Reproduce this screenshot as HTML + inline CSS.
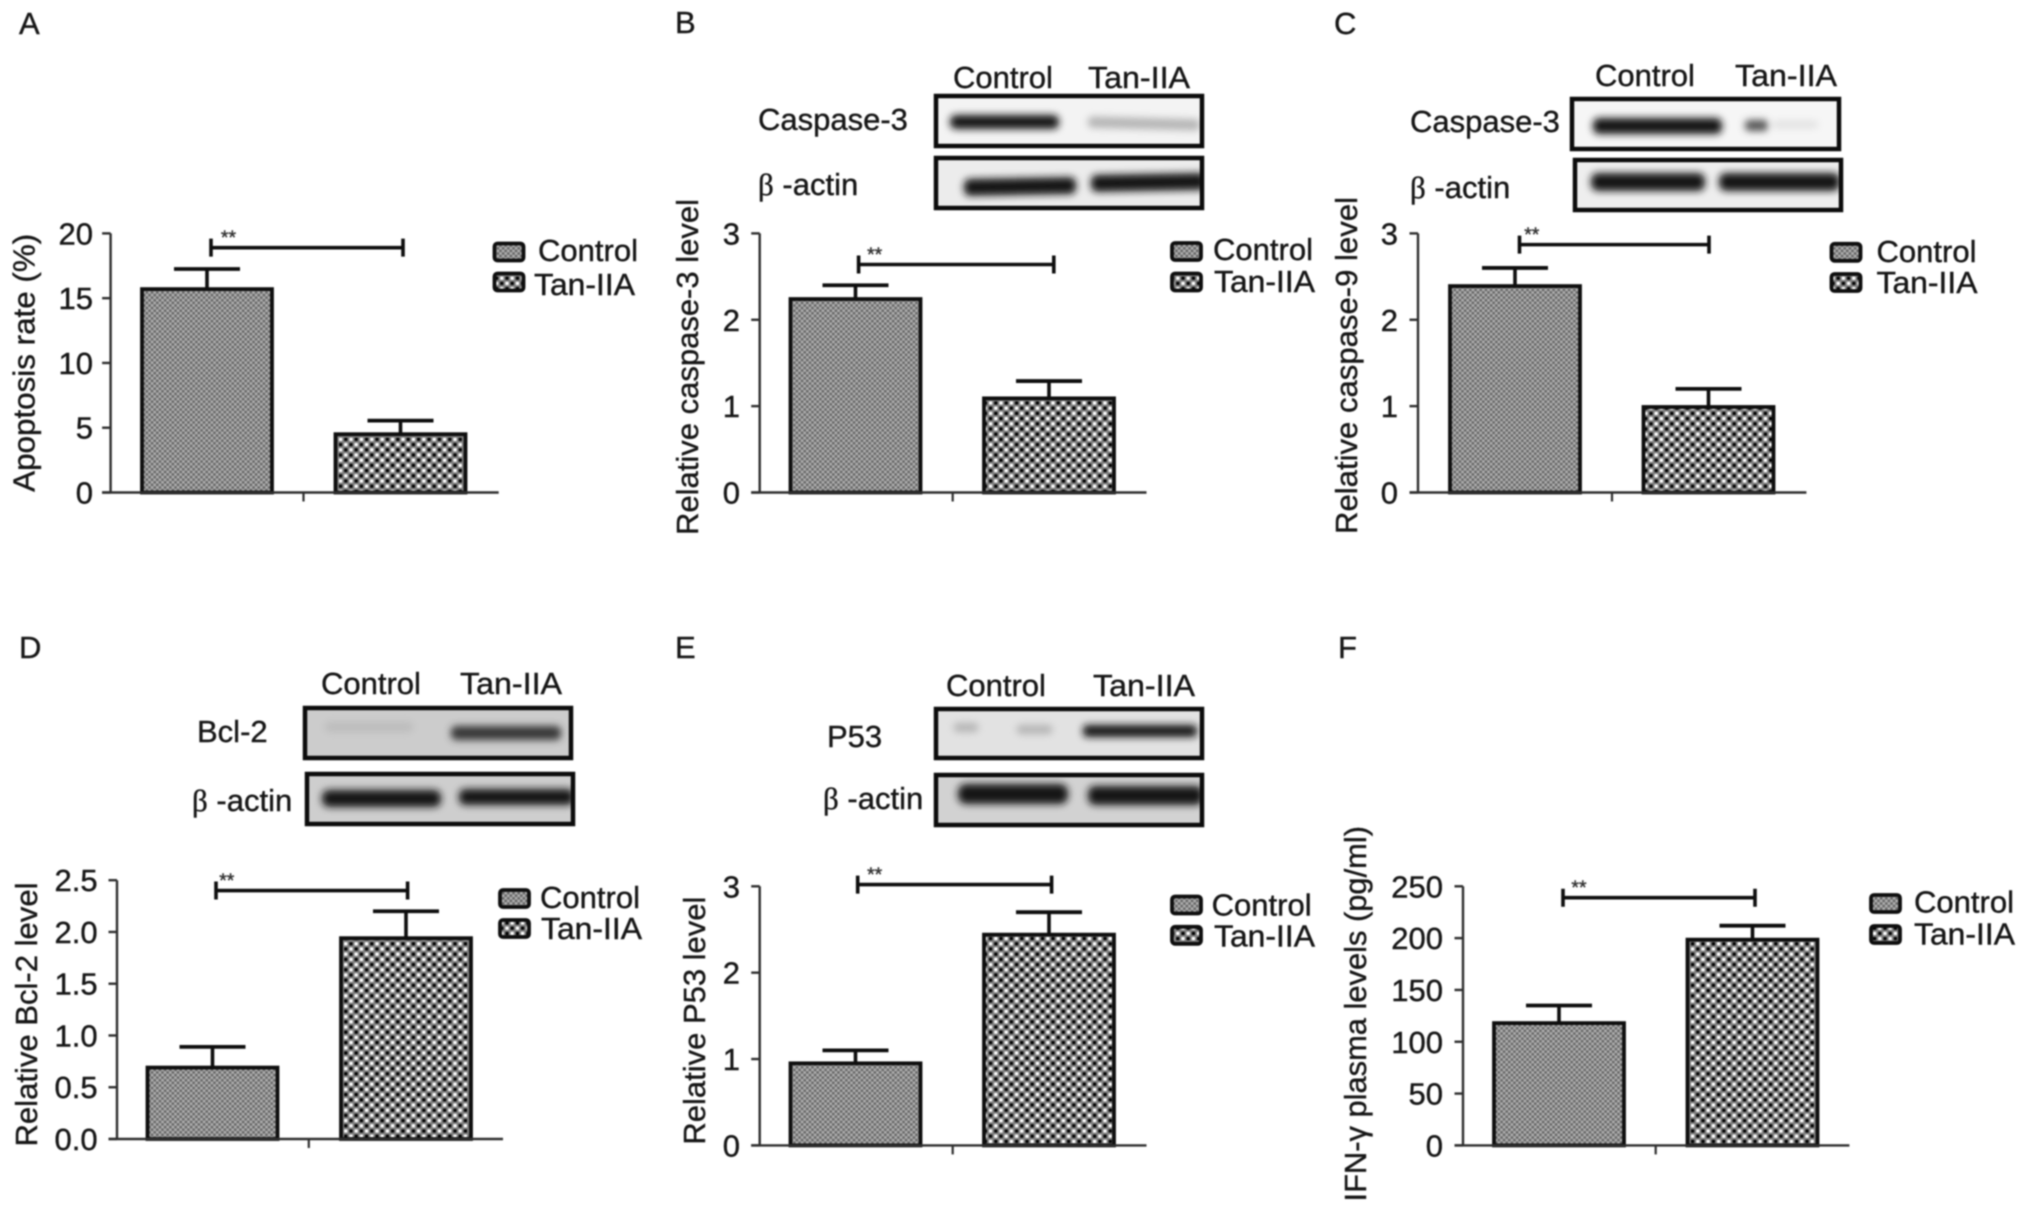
<!DOCTYPE html>
<html lang="en">
<head>
<meta charset="utf-8">
<title>Tan-IIA apoptosis panels</title>
<style>
html,body{margin:0;padding:0;background:#fff;width:2029px;height:1214px;overflow:hidden}
#figure{display:block;filter:blur(0.8px)}
text{font-family:"Liberation Sans",Arial,sans-serif;fill:#161616;stroke:#161616;stroke-width:0.4px}
</style>
</head>
<body>
<svg id="figure" xmlns="http://www.w3.org/2000/svg" width="2029" height="1214" viewBox="0 0 2029 1214">
<defs>
<pattern id="fill-gray" patternUnits="userSpaceOnUse" width="5.2" height="5.2">
<rect width="5.2" height="5.2" fill="#8a8a8a"/>
<rect width="2.6" height="2.6" fill="#666"/>
<rect x="2.6" y="2.6" width="2.6" height="2.6" fill="#666"/>
<rect x="2.6" width="2.6" height="2.6" fill="#b0b0b0"/>
<rect y="2.6" width="2.6" height="2.6" fill="#b0b0b0"/>
</pattern>
<pattern id="fill-dots" patternUnits="userSpaceOnUse" width="10.4" height="10.4">
<rect width="10.4" height="10.4" fill="#808080"/>
<rect x="1" y="1" width="3.2" height="3.2" fill="#000"/>
<rect x="6.2" y="6.2" width="3.2" height="3.2" fill="#000"/>
<rect x="6.2" y="1" width="3.2" height="3.2" fill="#fff"/>
<rect x="1" y="6.2" width="3.2" height="3.2" fill="#fff"/>
</pattern>
<filter id="band-blur" x="-20%" y="-100%" width="140%" height="300%"><feGaussianBlur stdDeviation="3.6"/></filter>
<clipPath id="clip-b1"><rect x="936" y="96" width="266" height="50"/></clipPath>
<clipPath id="clip-b2"><rect x="936" y="158" width="266" height="50"/></clipPath>
<clipPath id="clip-c1"><rect x="1572" y="99" width="267" height="50"/></clipPath>
<clipPath id="clip-c2"><rect x="1575" y="160" width="266" height="50"/></clipPath>
<clipPath id="clip-d1"><rect x="305" y="708" width="266" height="50"/></clipPath>
<clipPath id="clip-d2"><rect x="307" y="774" width="266" height="50"/></clipPath>
<clipPath id="clip-e1"><rect x="936" y="709" width="266" height="49"/></clipPath>
<clipPath id="clip-e2"><rect x="936" y="775" width="266" height="50"/></clipPath>
</defs>

<!-- Panel letters -->
<text x="19" y="34" font-size="31">A</text>
<text x="675" y="33" font-size="31">B</text>
<text x="1334" y="34" font-size="31">C</text>
<text x="19" y="658" font-size="31">D</text>
<text x="675" y="658" font-size="31">E</text>
<text x="1338" y="658" font-size="31">F</text>

<!-- Panel B blots -->
<g>
<text x="953" y="88" font-size="31">Control</text>
<text x="1088" y="88" font-size="31" textLength="102" lengthAdjust="spacingAndGlyphs">Tan-IIA</text>
<text x="758" y="130" font-size="31">Caspase-3</text>
<text x="758" y="195" font-size="31"><tspan font-family="'Liberation Serif',serif">β</tspan> -actin</text>
<rect x="936" y="96" width="266" height="50" fill="#f3f3f3"/>
<g clip-path="url(#clip-b1)" filter="url(#band-blur)">
<rect x="950" y="115" width="109" height="14" rx="6" fill="#181818"/>
<rect x="1088" y="118" width="112" height="11" rx="4" fill="#b4b4b4" transform="rotate(1.5 1145 124)"/>
</g>
<rect x="936" y="96" width="266" height="50" fill="none" stroke="#0c0c0c" stroke-width="4.5"/>
<rect x="936" y="158" width="266" height="50" fill="#ececec"/>
<g clip-path="url(#clip-b2)" filter="url(#band-blur)">
<rect x="964" y="178" width="112" height="17" rx="6" fill="#181818" transform="rotate(-1 1020 187)"/>
<rect x="1091" y="174" width="115" height="17" rx="6" fill="#181818" transform="rotate(-1 1145 183)"/>
</g>
<rect x="936" y="158" width="266" height="50" fill="none" stroke="#0c0c0c" stroke-width="4.5"/>
</g>

<!-- Panel C blots -->
<g>
<text x="1595" y="86" font-size="31">Control</text>
<text x="1735" y="86" font-size="31" textLength="102" lengthAdjust="spacingAndGlyphs">Tan-IIA</text>
<text x="1410" y="132" font-size="31">Caspase-3</text>
<text x="1410" y="198" font-size="31"><tspan font-family="'Liberation Serif',serif">β</tspan> -actin</text>
<rect x="1572" y="99" width="267" height="50" fill="#f6f6f6"/>
<g clip-path="url(#clip-c1)" filter="url(#band-blur)">
<rect x="1593" y="118" width="129" height="16" rx="6" fill="#181818"/>
<rect x="1745" y="120" width="23" height="11" rx="4" fill="#555"/>
<rect x="1772" y="121" width="46" height="7" rx="3" fill="#e0e0e0"/>
</g>
<rect x="1572" y="99" width="267" height="50" fill="none" stroke="#0c0c0c" stroke-width="4.5"/>
<rect x="1575" y="160" width="266" height="50" fill="#eeeeee"/>
<g clip-path="url(#clip-c2)" filter="url(#band-blur)">
<rect x="1591" y="173" width="114" height="18" rx="7" fill="#181818"/>
<rect x="1719" y="173" width="121" height="18" rx="7" fill="#181818"/>
</g>
<rect x="1575" y="160" width="266" height="50" fill="none" stroke="#0c0c0c" stroke-width="4.5"/>
</g>

<!-- Panel D blots -->
<g>
<text x="321" y="694" font-size="31">Control</text>
<text x="460" y="694" font-size="31" textLength="102" lengthAdjust="spacingAndGlyphs">Tan-IIA</text>
<text x="197" y="742" font-size="31">Bcl-2</text>
<text x="192" y="811" font-size="31"><tspan font-family="'Liberation Serif',serif">β</tspan> -actin</text>
<rect x="305" y="708" width="266" height="50" fill="#cccccc"/>
<g clip-path="url(#clip-d1)" filter="url(#band-blur)">
<rect x="325" y="722" width="88" height="10" rx="4" fill="#bcbcbc"/>
<rect x="451" y="726" width="110" height="14" rx="5" fill="#383838"/>
</g>
<rect x="305" y="708" width="266" height="50" fill="none" stroke="#0c0c0c" stroke-width="4.5"/>
<rect x="307" y="774" width="266" height="50" fill="#cecece"/>
<g clip-path="url(#clip-d2)" filter="url(#band-blur)">
<rect x="322" y="790" width="119" height="17" rx="7" fill="#181818"/>
<rect x="459" y="789" width="115" height="16" rx="6" fill="#181818"/>
</g>
<rect x="307" y="774" width="266" height="50" fill="none" stroke="#0c0c0c" stroke-width="4.5"/>
</g>

<!-- Panel E blots -->
<g>
<text x="946" y="696" font-size="31">Control</text>
<text x="1093" y="696" font-size="31" textLength="102" lengthAdjust="spacingAndGlyphs">Tan-IIA</text>
<text x="827" y="747" font-size="31">P53</text>
<text x="823" y="809" font-size="31"><tspan font-family="'Liberation Serif',serif">β</tspan> -actin</text>
<rect x="936" y="709" width="266" height="49" fill="#e2e2e2"/>
<g clip-path="url(#clip-e1)" filter="url(#band-blur)">
<rect x="954" y="723" width="24" height="9" rx="3" fill="#b4b4b4"/>
<rect x="1017" y="725" width="35" height="9" rx="3" fill="#b4b4b4"/>
<rect x="1083" y="725" width="114" height="12" rx="4" fill="#181818"/>
</g>
<rect x="936" y="709" width="266" height="49" fill="none" stroke="#0c0c0c" stroke-width="4.5"/>
<rect x="936" y="775" width="266" height="50" fill="#d2d2d2"/>
<g clip-path="url(#clip-e2)" filter="url(#band-blur)">
<rect x="958" y="784" width="110" height="20" rx="8" fill="#141414"/>
<rect x="1088" y="786" width="115" height="19" rx="7" fill="#141414"/>
</g>
<rect x="936" y="775" width="266" height="50" fill="none" stroke="#0c0c0c" stroke-width="4.5"/>
</g>

<g id="charts"></g>
</svg>

<script>
const categories = ['Control', 'Tan-IIA'];

const panelAMeans = [15.7, 4.5];
const panelAErrorTops = [17.25, 5.55];
const panelATickLabels = ['0', '5', '10', '15', '20'];
const panelASignificance = 18.9;

const panelBMeans = [2.24, 1.09];
const panelBErrorTops = [2.4, 1.29];
const panelBTickLabels = ['0', '1', '2', '3'];
const panelBSignificance = 2.64;

const panelCMeans = [2.39, 0.99];
const panelCErrorTops = [2.6, 1.2];
const panelCTickLabels = ['0', '1', '2', '3'];
const panelCSignificance = 2.87;

const panelDMeans = [0.69, 1.94];
const panelDErrorTops = [0.89, 2.2];
const panelDTickLabels = ['0.0', '0.5', '1.0', '1.5', '2.0', '2.5'];
const panelDSignificance = 2.4;

const panelEMeans = [0.95, 2.44];
const panelEErrorTops = [1.1, 2.7];
const panelETickLabels = ['0', '1', '2', '3'];
const panelESignificance = 3.02;

const panelFMeans = [118, 198.5];
const panelFErrorTops = [135, 212];
const panelFTickLabels = ['0', '50', '100', '150', '200', '250'];
const panelFSignificance = 239;

const panels = [
  {id:'a', title:'Apoptosis rate (%)', means:panelAMeans, errs:panelAErrorTops, ticks:panelATickLabels, sig:panelASignificance,
   axisX:110.6, y0:492.5, yTop:233.4, xEnd:498.7, barLeft:142, barStep:193.5, centerX:303.5, labelRight:93,
   titleX:34.7, titleY:491.8, titleLen:258, brX:[211,403], starX:228.5,
   legSwatchX:494.5, legSwatchY:[243.5,273.5], legTextX:[538,534], legTextY:[261,295]},
  {id:'b', title:'Relative caspase-3 level', means:panelBMeans, errs:panelBErrorTops, ticks:panelBTickLabels, sig:panelBSignificance,
   axisX:759.7, y0:492.5, yTop:233.4, xEnd:1146.5, barLeft:790.5, barStep:193.5, centerX:952.7, labelRight:740,
   titleX:698, titleY:535, titleLen:336, brX:[858.6,1053.8], starX:874.7,
   legSwatchX:1172, legSwatchY:[243,273.5], legTextX:[1213,1214], legTextY:[260,292]},
  {id:'c', title:'Relative caspase-9 level', means:panelCMeans, errs:panelCErrorTops, ticks:panelCTickLabels, sig:panelCSignificance,
   axisX:1418, y0:492.5, yTop:233.4, xEnd:1806.4, barLeft:1450, barStep:193.5, centerX:1612, labelRight:1398,
   titleX:1357, titleY:534, titleLen:337, brX:[1519.5,1709], starX:1531.8,
   legSwatchX:1831.5, legSwatchY:[243.8,274], legTextX:[1876.5,1876.5], legTextY:[262,293]},
  {id:'d', title:'Relative Bcl-2 level', means:panelDMeans, errs:panelDErrorTops, ticks:panelDTickLabels, sig:panelDSignificance,
   axisX:117, y0:1139, yTop:880.2, xEnd:503, barLeft:147.5, barStep:193.5, centerX:308.8, labelRight:97.6,
   titleX:37, titleY:1146.5, titleLen:264, brX:[216,407.6], starX:226.8,
   legSwatchX:500, legSwatchY:[890,920], legTextX:[540,541], legTextY:[908,939]},
  {id:'e', title:'Relative P53 level', means:panelEMeans, errs:panelEErrorTops, ticks:panelETickLabels, sig:panelESignificance,
   axisX:759.7, y0:1145.4, yTop:886.3, xEnd:1146.5, barLeft:790.5, barStep:193.5, centerX:952.7, labelRight:740,
   titleX:705, titleY:1144.6, titleLen:248, brX:[857.7,1051.6], starX:874.7,
   legSwatchX:1172, legSwatchY:[896.5,926.8], legTextX:[1211.6,1214], legTextY:[915.5,946.5]},
  {id:'f', title:'IFN-γ plasma levels (pg/ml)', means:panelFMeans, errs:panelFErrorTops, ticks:panelFTickLabels, sig:panelFSignificance,
   axisX:1463, y0:1145.4, yTop:886.3, xEnd:1849.4, barLeft:1494, barStep:193.5, centerX:1655.7, labelRight:1443,
   titleX:1366, titleY:1201.5, titleLen:375.5, brX:[1563,1755], starX:1579,
   legSwatchX:1871, legSwatchY:[895,926], legTextX:[1914,1914], legTextY:[912.4,944.6]}
];

const NS = 'http://www.w3.org/2000/svg';
const BAR_WIDTH = 130;
const CAP_HALF = 33;
const INK = '#0e0e0e';
const AXIS_INK = '#2e2e2e';
const FILLS = ['url(#fill-gray)', 'url(#fill-dots)'];
const LEGEND_LABEL_WIDTHS = [100, 101];

function mk(parent, tag, attrs, text) {
  const node = document.createElementNS(NS, tag);
  for (const key in attrs) node.setAttribute(key, attrs[key]);
  if (text !== undefined) node.textContent = text;
  parent.appendChild(node);
  return node;
}

function drawPanel(p) {
  const root = document.getElementById('charts');
  const yMax = parseFloat(p.ticks[p.ticks.length - 1]);
  const yScale = v => p.y0 - (v / yMax) * (p.y0 - p.yTop);
  const xScale = i => p.barLeft + i * p.barStep;

  const g = mk(root, 'g', {});
  
  

  // bars
  p.means.forEach((m, i) => {
    const left = xScale(i);
    const cx = left + BAR_WIDTH / 2;
    const errTop = yScale(p.errs[i]);
    const stem = mk(g, 'line', {x1:cx, x2:cx, y1:yScale(m), y2:errTop, stroke:INK, 'stroke-width':3.6});
    
    
    const cap = mk(g, 'line', {x1:cx - CAP_HALF, x2:cx + CAP_HALF, y1:errTop, y2:errTop, stroke:INK, 'stroke-width':3.8});
    
    
    const bar = mk(g, 'rect', {x:left, y:yScale(m), width:BAR_WIDTH, height:yScale(0) - yScale(m), fill:FILLS[i], stroke:INK, 'stroke-width':3.8});
    
    
  });

  // axes
  const yAxis = mk(g, 'line', {x1:p.axisX, x2:p.axisX, y1:p.yTop, y2:p.y0, stroke:AXIS_INK, 'stroke-width':2.4});
  
  
  const xAxis = mk(g, 'line', {x1:p.axisX - 8.5, x2:p.xEnd, y1:p.y0, y2:p.y0, stroke:AXIS_INK, 'stroke-width':2.4});
  
  
  const xTick = mk(g, 'line', {x1:p.centerX, x2:p.centerX, y1:p.y0, y2:p.y0 + 9, stroke:AXIS_INK, 'stroke-width':2.2});
  
  

  p.ticks.forEach(label => {
    const y = yScale(parseFloat(label));
    const tick = mk(g, 'line', {x1:p.axisX - 8.5, x2:p.axisX, y1:y, y2:y, stroke:AXIS_INK, 'stroke-width':2.4});
    
    
    const txt = mk(g, 'text', {x:p.labelRight, y:y + 11, 'font-size':31, 'text-anchor':'end'}, label);
    
    
  });

  // axis title
  const title = mk(g, 'text', {x:p.titleX, y:p.titleY, 'font-size':31, textLength:p.titleLen, lengthAdjust:'spacingAndGlyphs',
    transform:'rotate(-90 ' + p.titleX + ' ' + p.titleY + ')'}, p.title);
  
  

  // significance bracket
  const by = yScale(p.sig);
  const bracket = mk(g, 'path', {d:'M' + p.brX[0] + ' ' + by + 'H' + p.brX[1] + 'M' + p.brX[0] + ' ' + (by - 9) + 'V' + (by + 9) + 'M' + p.brX[1] + ' ' + (by - 9) + 'V' + (by + 9),
    fill:'none', stroke:INK, 'stroke-width':3.6});
  
  
  const stars = mk(g, 'text', {x:p.starX, y:by - 3.5, 'font-size':19.5, 'text-anchor':'middle', style:'fill:#333;stroke:#333'}, '**');
  
  

  // legend
  categories.forEach((name, i) => {
    const sw = mk(g, 'rect', {x:p.legSwatchX, y:p.legSwatchY[i], width:29, height:17, rx:3, fill:FILLS[i], stroke:INK, 'stroke-width':3.8});
    
    
    const lt = mk(g, 'text', {x:p.legTextX[i], y:p.legTextY[i], 'font-size':30.5, textLength:LEGEND_LABEL_WIDTHS[i], lengthAdjust:'spacingAndGlyphs'}, name);
    
    
  });
}

panels.forEach(drawPanel);
</script>
</body>
</html>
